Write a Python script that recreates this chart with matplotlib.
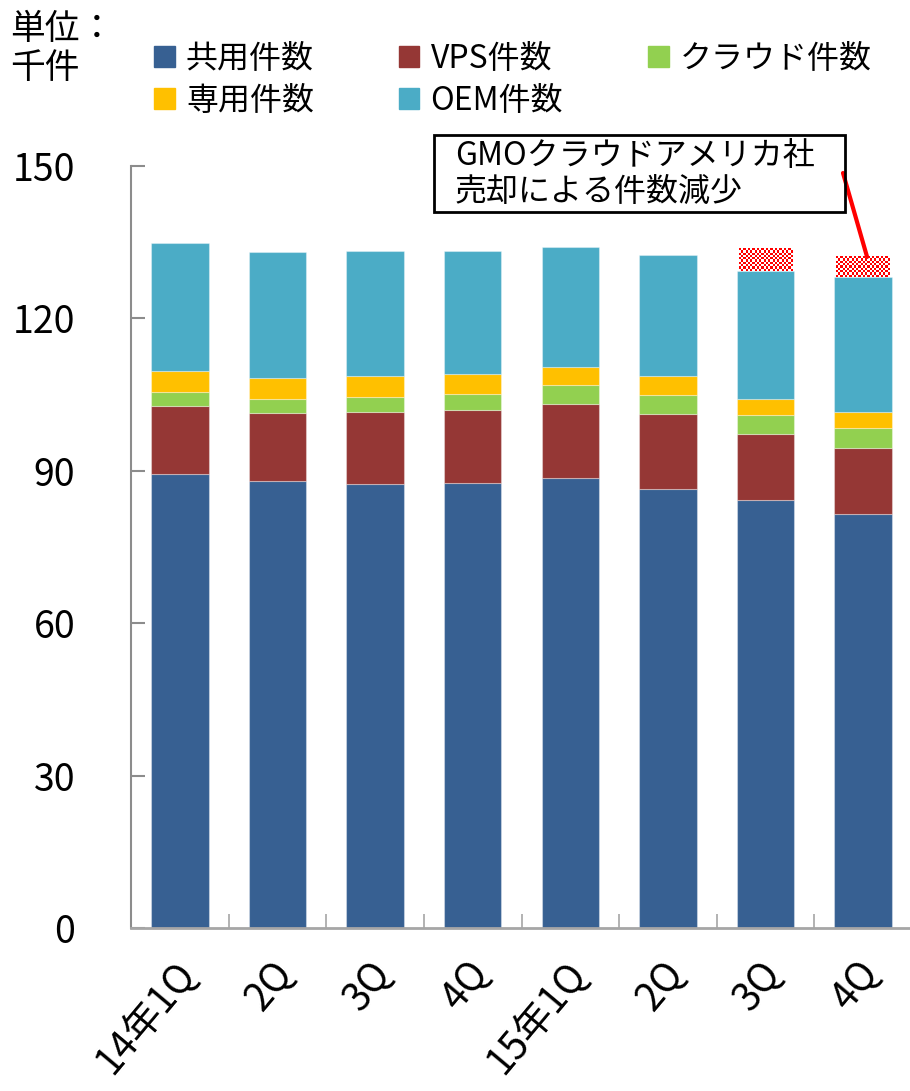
import numpy as np
import matplotlib
matplotlib.use('Agg')
import matplotlib.pyplot as plt
from matplotlib.patches import Patch, Rectangle
from matplotlib.colors import ListedColormap
from matplotlib.transforms import ScaledTranslation

plt.rcParams['font.family'] = ['Noto Sans CJK JP', 'DejaVu Sans']

# data (千件)
quarters = ['14年1Q', '2Q', '3Q', '4Q', '15年1Q', '2Q', '3Q', '4Q']
shared = [89.4, 88.0, 87.5, 87.6, 88.6, 86.5, 84.2, 81.4]
vps = [13.3, 13.3, 14.0, 14.3, 14.6, 14.7, 13.0, 13.1]
cloud = [2.8, 2.9, 3.1, 3.3, 3.6, 3.8, 3.7, 4.0]
dedicated = [4.1, 4.1, 4.0, 3.8, 3.7, 3.7, 3.2, 3.1]
oem = [25.3, 24.8, 24.6, 24.2, 23.6, 23.7, 25.2, 26.5]
sold = [0, 0, 0, 0, 0, 0, 4.4, 4.0]  # 売却による減少分

series = [
    ('共用件数', shared, '#376092'),
    ('VPS件数', vps, '#953735'),
    ('クラウド件数', cloud, '#92D050'),
    ('専用件数', dedicated, '#FFC000'),
    ('OEM件数', oem, '#4BACC6'),
]

W, H = 910, 1091
fig = plt.figure(figsize=(W / 100, H / 100), dpi=100)
ax = fig.add_axes([131 / W, 163 / H, 781 / W, 762 / H])

x = np.arange(len(quarters))
bw = 0.59
bottom = np.zeros(len(quarters))
handles = {}
for name, vals, col in series:
    ax.bar(x, vals, bw, bottom=bottom, color=col, edgecolor=(1, 1, 1, 0.35),
           linewidth=0.8, zorder=2)
    handles[name] = Patch(color=col)
    bottom += np.array(vals)

# checkerboard for the sold part
cmap = ListedColormap(['#FF0000', '#FFFFFF'])
hw = 0.55
for i, h in enumerate(sold):
    if h <= 0:
        continue
    nrows = max(2, int(round(h / 0.45)))
    board = np.indices((nrows, 24)).sum(axis=0) % 2
    ax.imshow(board, cmap=cmap, extent=(i - hw / 2, i + hw / 2, bottom[i], bottom[i] + h),
              aspect='auto', interpolation='nearest', zorder=3)

ax.set_xlim(-0.5, len(quarters) - 0.5)
ax.set_ylim(0, 150)

for s in ['top', 'right']:
    ax.spines[s].set_visible(False)
ax.spines['left'].set_color('#8C8C8C')
ax.spines['left'].set_linewidth(1.5)
ax.spines['bottom'].set_color('#A6A6A6')
ax.spines['bottom'].set_linewidth(2)

ax.set_yticks(range(0, 151, 30))
ax.tick_params(axis='y', direction='in', length=10, width=1.5, color='#8C8C8C',
               labelsize=27, pad=40)
for lab in ax.get_yticklabels():
    lab.set_horizontalalignment('right')

ax.set_xticks(x)
ax.set_xticklabels(quarters, rotation=50, ha='right', va='center',
                   rotation_mode='anchor', fontsize=28)
ax.set_xticks(np.arange(-0.5, len(quarters), 1), minor=True)
ax.tick_params(axis='x', which='major', length=0, pad=28)
ax.tick_params(axis='x', which='minor', direction='in', length=10, width=1.2,
               color='#A6A6A6')
off = ScaledTranslation(9 / 100, 0, fig.dpi_scale_trans)
for lab in ax.get_xticklabels():
    lab.set_transform(lab.get_transform() + off)

# unit label
fig.text(10 / W, 1 - 12 / H, '単位：\n千件', ha='left', va='top', fontsize=25,
         linespacing=1.15)

# legend
order = ['共用件数', '専用件数', 'VPS件数', 'OEM件数', 'クラウド件数']
fig.legend([handles[k] for k in order], order, ncol=3, loc='upper left',
           bbox_to_anchor=(154 / W, 1 - 43 / H), frameon=False, fontsize=23,
           handlelength=0.65, handleheight=0.65, handletextpad=0.35,
           columnspacing=2.65, labelspacing=0.3, borderpad=0, borderaxespad=0)

# annotation box
fig.patches.append(Rectangle((434 / W, 1 - 212 / H), 411 / W, 77 / H,
                             transform=fig.transFigure, fill=False,
                             edgecolor='black', linewidth=2))
fig.text(455 / W, 1 - 174 / H, 'GMOクラウドアメリカ社\n売却による件数減少',
         ha='left', va='center', fontsize=23, linespacing=1.15)
ax.annotate('', xy=(7.04, bottom[7] + sold[7]), xycoords='data',
            xytext=(843 / W, 1 - 173 / H), textcoords='figure fraction',
            arrowprops=dict(arrowstyle='-', color='red', lw=3,
                            shrinkA=0, shrinkB=0))

fig.savefig('out.png', dpi=100)
